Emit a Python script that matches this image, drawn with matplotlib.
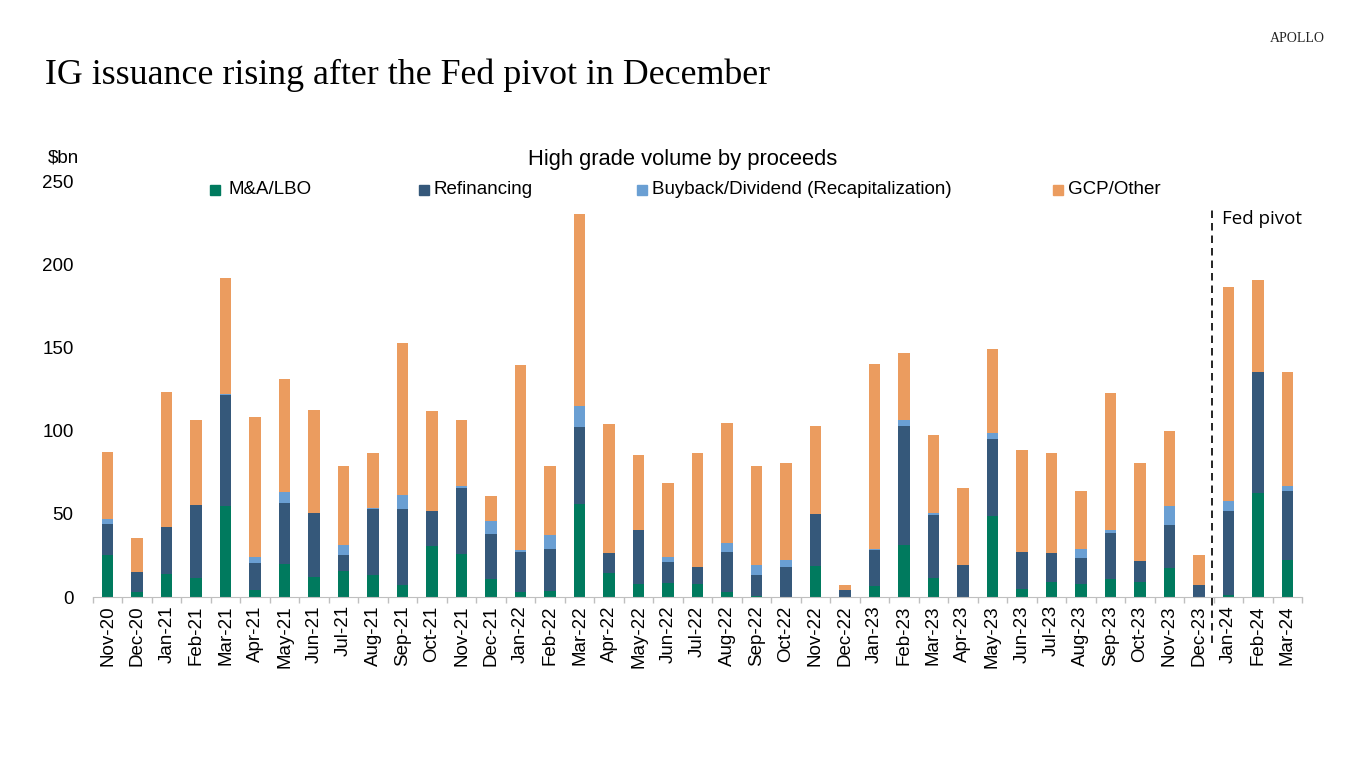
import matplotlib
matplotlib.use("Agg")
import matplotlib.pyplot as plt
import numpy as np
from matplotlib.lines import Line2D

months = ["Nov-20","Dec-20","Jan-21","Feb-21","Mar-21","Apr-21","May-21","Jun-21","Jul-21","Aug-21",
          "Sep-21","Oct-21","Nov-21","Dec-21","Jan-22","Feb-22","Mar-22","Apr-22","May-22","Jun-22",
          "Jul-22","Aug-22","Sep-22","Oct-22","Nov-22","Dec-22","Jan-23","Feb-23","Mar-23","Apr-23",
          "May-23","Jun-23","Jul-23","Aug-23","Sep-23","Oct-23","Nov-23","Dec-23","Jan-24","Feb-24","Mar-24"]

mna = [25, 3, 14, 11.5, 54.5, 4, 20, 12, 15.5, 13.5,
       7, 30.5, 26, 11, 3, 3.5, 56, 14.5, 8, 8.5,
       8, 3, 0.5, 0, 18.5, 0, 6.5, 31.5, 11.5, 0,
       48.5, 5, 9, 8, 11, 9, 17.5, 0, 1.5, 62.5, 22.5]
refi = [19, 12, 28, 44, 67, 16.5, 36.5, 38.5, 9.5, 39.5,
        46, 21, 39.5, 27, 24, 25.5, 46, 12, 32, 12.5,
        10, 24, 13, 18, 31.5, 4.5, 22, 71.5, 38, 19,
        46.5, 22, 17.5, 15.5, 27.5, 12.5, 25.5, 7.5, 50, 72.5, 41]
buyback = [3, 0, 0, 0, 0.5, 3.5, 6.5, 0, 6, 0.3,
           8.5, 0, 1, 7.5, 1.5, 8.5, 12.5, 0, 0, 3,
           0, 5.5, 6, 4, 0, 0, 0.5, 3.5, 1, 0,
           3.5, 0, 0, 5.5, 2, 0.3, 11.5, 0, 6, 0, 3]
gcp = [40, 20.5, 81, 51, 70, 84, 68, 62, 47.5, 33,
       91, 60, 40, 15, 111, 41, 115.5, 77.5, 45.5, 44.5,
       68.5, 72, 59, 58.5, 52.5, 3, 111, 40, 47, 46.5,
       50.5, 61.5, 60, 34.5, 82, 59, 45, 18, 129, 55.5, 69]

series_names = ["M&A/LBO", "Refinancing", "Buyback/Dividend (Recapitalization)", "GCP/Other"]
colors = ["#007A5E", "#35587A", "#6A9FD3", "#EB9C5F"]

plt.rcParams['font.family'] = ['Liberation Sans', 'DejaVu Sans']

fig = plt.figure(figsize=(13.66, 7.68), dpi=100)
ax = fig.add_axes([93/1366, 1-597/768, (1302-93)/1366, (597-181)/768])

x = np.arange(len(months))
bottom = np.zeros(len(months))
for vals, c, name in zip([mna, refi, buyback, gcp], colors, series_names):
    v = np.array(vals, dtype=float)
    ax.bar(x, v, width=0.39, bottom=bottom, color=c, label=name, zorder=2)
    bottom += v

ax.set_xlim(-0.5, len(months) - 0.5)
ax.set_ylim(0, 250)
ax.set_yticks(np.arange(0, 251, 50))
ax.tick_params(axis='y', length=0, pad=14, labelsize=13.5)
ax.set_xticks(x)
ax.set_xticklabels(months, rotation=90, fontsize=13.5)
ax.tick_params(axis='x', which='major', length=0, pad=6)
ax.set_xticks(np.arange(-0.5, len(months), 1), minor=True)
ax.tick_params(axis='x', which='minor', length=4, color='#BFBFBF', width=1)
for s in ['top', 'right', 'left']:
    ax.spines[s].set_visible(False)
ax.spines['bottom'].set_color('#BFBFBF')

# Fed pivot dashed line
ax.plot([37.45, 37.45], [-27.5, 233], linestyle=(0, (4.5, 3)), color='black', lw=1.2, clip_on=False, zorder=3)
fig.text(1222/1366, 1-219/768, "Fed pivot", fontsize=13.5, family=['Open Sans', 'DejaVu Sans'], va='center', ha='left')

# Legend entries
leg_pos = [(215, 228), (424, 433), (642, 652), (1058, 1068)]
for (mx, tx), c, name in zip(leg_pos, colors, series_names):
    fig.add_artist(Line2D([mx/1366], [1-190/768], marker='s', markersize=7.5, color=c, linestyle='none'))
    fig.text(tx/1366, 1-190/768, name, fontsize=13.5, va='center', ha='left')

fig.text(683/1366, 1-159/768, "High grade volume by proceeds", fontsize=15.8, ha='center', va='center')
fig.text(48/1366, 1-158/768, "$bn", fontsize=13.5, ha='left', va='center')

fig.text(45/1366, 1-75/768, "IG issuance rising after the Fed pivot in December", fontsize=25.8,
         family=['Liberation Serif', 'DejaVu Serif'], ha='left', va='center')
fig.text(1325/1366, 1-39/768, "APOLLO", fontsize=10, family=['Liberation Serif', 'DejaVu Serif'],
         ha='right', va='center', color='#222222')

fig.savefig("out.png", dpi=100, facecolor='white')
